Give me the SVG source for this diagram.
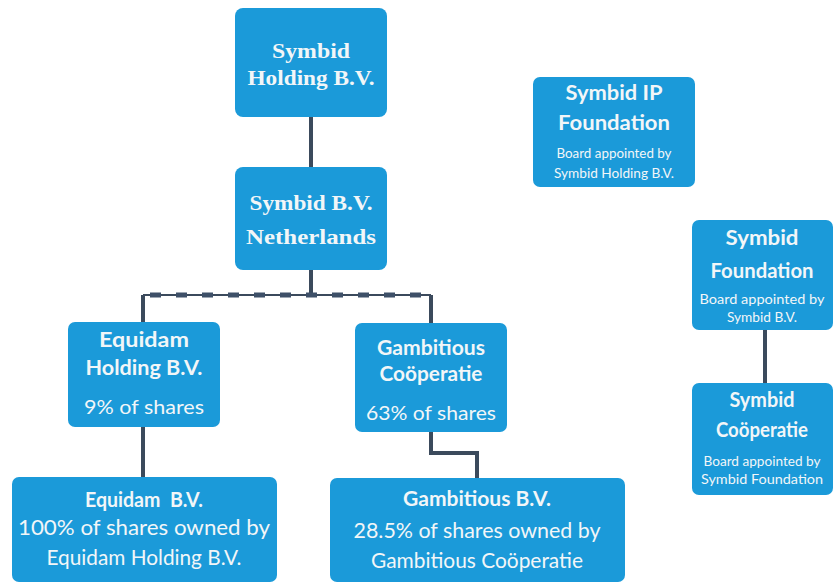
<svg xmlns="http://www.w3.org/2000/svg" width="833" height="584" viewBox="0 0 833 584">
<style>
.box{fill:#1b9ad9;}
.t{fill:#f2f6f8;text-anchor:middle;}
.serif{font-family:"Liberation Serif","DejaVu Serif",serif;font-weight:bold;font-size:22px;}
.b{font-family:Lato,"Noto Sans",sans-serif;font-weight:bold;font-size:20px;}
.r{font-family:Lato,"Noto Sans",sans-serif;font-size:20px;}
.rl{font-family:Lato,"Noto Sans",sans-serif;font-size:21px;}
.s{font-family:Lato,"Noto Sans",sans-serif;font-size:13px;}
.con{fill:none;stroke:#3b4a5c;stroke-width:4;}
.thin{fill:none;stroke:#3b4a5c;stroke-width:2;}
.dash{fill:none;stroke:#3e5068;stroke-width:5;stroke-dasharray:11 15;}
</style>
<rect width="833" height="584" fill="#ffffff"/>
<g id="connectors">
<line class="con" x1="311" y1="117" x2="311" y2="167"/>
<line class="con" x1="311" y1="270" x2="311" y2="296"/>
<line class="thin" x1="143" y1="295" x2="431" y2="295"/>
<line class="dash" x1="150" y1="295" x2="431" y2="295"/>
<path class="con" d="M143 323 V295"/>
<path class="con" d="M431 323 V295"/>
<line class="con" x1="143" y1="427" x2="143" y2="477"/>
<path class="con" d="M431 432 V453 H477 V478"/>
<line class="con" x1="765" y1="330" x2="765" y2="383"/>
</g>
<g id="symbid-holding">
<rect class="box" x="235" y="8" width="152" height="109" rx="8"/>
<text class="t serif" x="311" y="58" textLength="78" lengthAdjust="spacingAndGlyphs">Symbid</text>
<text class="t serif" x="311" y="85" textLength="127" lengthAdjust="spacingAndGlyphs">Holding B.V.</text>
</g>
<g id="symbid-bv">
<rect class="box" x="235" y="167" width="152" height="103" rx="8"/>
<text class="t serif" x="311" y="210" textLength="123" lengthAdjust="spacingAndGlyphs">Symbid B.V.</text>
<text class="t serif" x="311" y="244" textLength="130" lengthAdjust="spacingAndGlyphs">Netherlands</text>
</g>
<g id="equidam-holding">
<rect class="box" x="68" y="322" width="152" height="105" rx="7"/>
<text class="t b" x="144" y="347" textLength="90" lengthAdjust="spacingAndGlyphs">Equidam</text>
<text class="t b" x="144" y="375" textLength="117" lengthAdjust="spacingAndGlyphs">Holding B.V.</text>
<text class="t r" x="144" y="414" textLength="120" lengthAdjust="spacingAndGlyphs">9% of shares</text>
</g>
<g id="equidam-bv">
<rect class="box" x="12" y="477" width="265" height="105" rx="7"/>
<text class="t b" x="144" y="507" textLength="118" lengthAdjust="spacingAndGlyphs" xml:space="preserve">Equidam  B.V.</text>
<text class="t rl" x="144" y="535" textLength="252" lengthAdjust="spacingAndGlyphs">100% of shares owned by</text>
<text class="t rl" x="144" y="565" textLength="195" lengthAdjust="spacingAndGlyphs">Equidam Holding B.V.</text>
</g>
<g id="gambitious-cooperatie">
<rect class="box" x="355" y="323" width="152" height="109" rx="7"/>
<text class="t b" x="431" y="355" textLength="108" lengthAdjust="spacingAndGlyphs">Gambitious</text>
<text class="t b" x="431" y="381" textLength="103" lengthAdjust="spacingAndGlyphs">Coöperatie</text>
<text class="t r" x="431" y="420" textLength="130" lengthAdjust="spacingAndGlyphs">63% of shares</text>
</g>
<g id="gambitious-bv">
<rect class="box" x="330" y="478" width="295" height="104" rx="7"/>
<text class="t b" x="477" y="506" textLength="148" lengthAdjust="spacingAndGlyphs">Gambitious B.V.</text>
<text class="t rl" x="477" y="538" textLength="247" lengthAdjust="spacingAndGlyphs">28.5% of shares owned by</text>
<text class="t rl" x="477" y="568" textLength="212" lengthAdjust="spacingAndGlyphs">Gambitious Coöperatie</text>
</g>
<g id="symbid-ip-foundation">
<rect class="box" x="533" y="77" width="162" height="110" rx="7"/>
<text class="t b" x="614" y="100" textLength="97" lengthAdjust="spacingAndGlyphs">Symbid IP</text>
<text class="t b" x="614" y="130" textLength="112" lengthAdjust="spacingAndGlyphs">Foundation</text>
<text class="t s" x="614" y="158" textLength="115" lengthAdjust="spacingAndGlyphs">Board appointed by</text>
<text class="t s" x="614" y="178" textLength="120" lengthAdjust="spacingAndGlyphs">Symbid Holding B.V.</text>
</g>
<g id="symbid-foundation">
<rect class="box" x="692" y="220" width="141" height="110" rx="7"/>
<text class="t b" x="762" y="245" textLength="73" lengthAdjust="spacingAndGlyphs">Symbid</text>
<text class="t b" x="762" y="278" textLength="103" lengthAdjust="spacingAndGlyphs">Foundation</text>
<text class="t s" x="762" y="304" textLength="125" lengthAdjust="spacingAndGlyphs">Board appointed by</text>
<text class="t s" x="762" y="322" textLength="70" lengthAdjust="spacingAndGlyphs">Symbid B.V.</text>
</g>
<g id="symbid-cooperatie">
<rect class="box" x="692" y="383" width="141" height="112" rx="7"/>
<text class="t b" x="762" y="407" textLength="65" lengthAdjust="spacingAndGlyphs">Symbid</text>
<text class="t b" x="762" y="437" textLength="92" lengthAdjust="spacingAndGlyphs">Coöperatie</text>
<text class="t s" x="762" y="466" textLength="117" lengthAdjust="spacingAndGlyphs">Board appointed by</text>
<text class="t s" x="762" y="484" textLength="122" lengthAdjust="spacingAndGlyphs">Symbid Foundation</text>
</g>
</svg>
